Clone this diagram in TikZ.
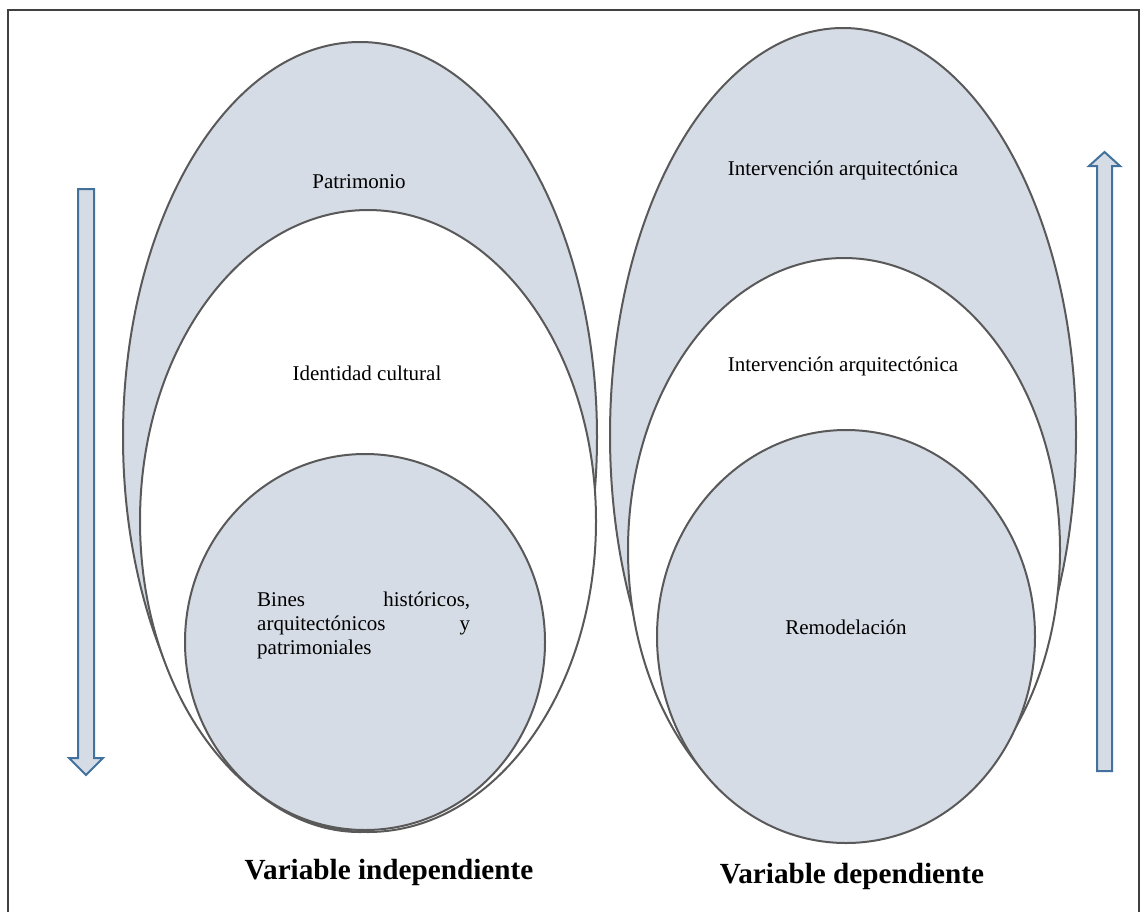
\documentclass[tikz,border=0pt]{standalone}
\usepackage{fontspec}
\setmainfont{Liberation Serif}
\usetikzlibrary{shapes.geometric}
\definecolor{ellfill}{HTML}{D6DCE5}
\definecolor{ellline}{HTML}{595959}
\definecolor{arrline}{HTML}{41719C}
\definecolor{frameline}{HTML}{404040}
\tikzset{
  oval/.style={ellipse, draw=ellline, line width=2pt, inner sep=0pt, outer sep=0pt},
  grayoval/.style={oval, fill=ellfill},
  whiteoval/.style={oval, fill=white},
  lbl/.style={font=\fontsize{21}{24}\selectfont, inner sep=0pt},
  title/.style={font=\fontsize{29.2}{32}\selectfont\bfseries, inner sep=0pt},
  blockarrow/.style={draw=arrline, fill=ellfill, line width=2pt, line join=miter}
}
\begin{document}
\begin{tikzpicture}[x=1pt,y=-1pt]
\useasboundingbox (0,0) rectangle (1140,911);
% frame
\draw[frameline, line width=1.5pt] (8,915) -- (8,10) -- (1139,10) -- (1139,915);

% left group
\node[grayoval, minimum width=474pt, minimum height=790pt] (patri) at (360,437) {};
\node[whiteoval, minimum width=456pt, minimum height=622pt] (ident) at (368,521) {};
\node[grayoval, minimum width=360pt, minimum height=376pt] (bienes) at (365,642) {};

% right group
\node[grayoval, minimum width=466pt, minimum height=814pt] (inter1) at (843,435) {};
\node[whiteoval, minimum width=432pt, minimum height=584pt] (inter2) at (844,550) {};
\node[grayoval, minimum width=378pt, minimum height=413pt] (remod) at (846,636.5) {};

% labels
\node[lbl] (tpatri) at (359,182) {Patrimonio};
\node[lbl] (tident) at (367,373) {Identidad cultural};
\node[lbl, anchor=north west] (tbienes) at (257,592) {\parbox[t]{213pt}{\tolerance=10000\hyphenpenalty=10000\parindent=0pt
Bines históricos, arquitectónicos y patrimoniales}};
\node[lbl] (tinter1) at (843,170) {Intervención arquitectónica};
\node[lbl] (tinter2) at (843,366) {Intervención arquitectónica};
\node[lbl] (tremod) at (846,627) {Remodelación};
\node[title] (tind) at (389,872) {Variable independiente};
\node[title] (tdep) at (852,876) {Variable dependiente};

% block arrows
\draw[blockarrow] (78,189) -- (94,189) -- (94,758) -- (103,758) -- (86,775) -- (69,758) -- (78,758) -- cycle;
\draw[blockarrow] (1097,771) -- (1112,771) -- (1112,166) -- (1120,166) -- (1104.5,152) -- (1089,166) -- (1097,166) -- cycle;
\end{tikzpicture}
\end{document}
